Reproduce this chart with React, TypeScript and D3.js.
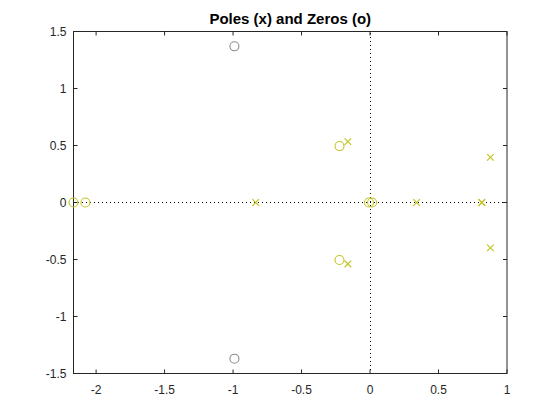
import { useEffect, useRef } from "react"
import * as d3 from "d3"

const grayZerosRe = [-0.99, -0.99]
const grayZerosIm = [1.37, -1.37]
const zerosRe = [-2.165, -2.078, -0.223, -0.223, -0.008, 0.015]
const zerosIm = [0, 0, 0.495, -0.504, 0, 0]
const polesRe = [-0.835, -0.162, -0.162, 0.34, 0.816, 0.816, 0.879, 0.879]
const polesIm = [0, 0.534, -0.539, 0, 0, 0, 0.396, -0.398]
const xTicks = [-2, -1.5, -1, -0.5, 0, 0.5, 1]
const yTicks = [-1.5, -1, -0.5, 0, 0.5, 1, 1.5]
const titleText = "Poles (x) and Zeros (o)"

export default function App() {
  const svgRef = useRef<SVGSVGElement>(null)

  useEffect(() => {
    if (!svgRef.current) return
    const width = 560
    const height = 420
    const margin = { top: 31.5, right: 53, bottom: 46.5, left: 73.5 }
    const axisColor = "#262626"
    const yellow = "#c4c426"
    const gray = "#8c8c8c"
    const font = "'Liberation Sans', Arial, sans-serif"

    const svg = d3.select(svgRef.current)
    svg.selectAll("*").remove()
    svg.attr("width", width).attr("height", height)

    const x = d3.scaleLinear().domain([-2.165, 1]).range([margin.left, width - margin.right])
    const y = d3.scaleLinear().domain([-1.5, 1.5]).range([height - margin.bottom, margin.top])

    svg.append("rect").attr("width", width).attr("height", height).attr("fill", "#fff")

    const [x0, x1] = x.range()
    const [y0, y1] = y.range()

    // dotted axes through origin
    svg.append("line")
      .attr("x1", x0).attr("x2", x1).attr("y1", y(0)).attr("y2", y(0))
      .attr("stroke", "#000").attr("stroke-dasharray", "1,3")
      .attr("shape-rendering", "crispEdges")
    svg.append("line")
      .attr("x1", x(0)).attr("x2", x(0)).attr("y1", y0).attr("y2", y1)
      .attr("stroke", "#000").attr("stroke-dasharray", "1,3")
      .attr("shape-rendering", "crispEdges")

    // box
    svg.append("rect")
      .attr("x", x0).attr("y", y1).attr("width", x1 - x0).attr("height", y0 - y1)
      .attr("fill", "none").attr("stroke", axisColor).attr("stroke-width", 1)

    const tl = 4
    const fmt = (d: number) => String(d)

    const xg = svg.append("g")
    xTicks.forEach((t) => {
      const px = x(t)
      xg.append("line").attr("x1", px).attr("x2", px).attr("y1", y0).attr("y2", y0 - tl).attr("stroke", axisColor)
      xg.append("line").attr("x1", px).attr("x2", px).attr("y1", y1).attr("y2", y1 + tl).attr("stroke", axisColor)
      xg.append("text").attr("x", px).attr("y", y0 + 20)
        .attr("text-anchor", "middle").attr("font-family", font).attr("font-size", 12)
        .attr("fill", axisColor).text(fmt(t))
    })

    const yg = svg.append("g")
    yTicks.forEach((t) => {
      const py = y(t)
      yg.append("line").attr("x1", x0).attr("x2", x0 + tl).attr("y1", py).attr("y2", py).attr("stroke", axisColor)
      yg.append("line").attr("x1", x1).attr("x2", x1 - tl).attr("y1", py).attr("y2", py).attr("stroke", axisColor)
      yg.append("text").attr("x", x0 - 7).attr("y", py).attr("dy", "0.35em")
        .attr("text-anchor", "end").attr("font-family", font).attr("font-size", 12)
        .attr("fill", axisColor).text(fmt(t))
    })

    // zeros
    const r = 4.5
    svg.append("g").selectAll("circle")
      .data(d3.zip(grayZerosRe, grayZerosIm))
      .join("circle")
      .attr("cx", (d) => x(d[0])).attr("cy", (d) => y(d[1])).attr("r", r)
      .attr("fill", "none").attr("stroke", gray).attr("stroke-width", 1.1)

    svg.append("g").selectAll("circle")
      .data(d3.zip(zerosRe, zerosIm))
      .join("circle")
      .attr("cx", (d) => x(d[0])).attr("cy", (d) => y(d[1])).attr("r", r)
      .attr("fill", "none").attr("stroke", yellow).attr("stroke-width", 1.1)

    // poles
    const s = 3.3
    svg.append("g").selectAll("path")
      .data(d3.zip(polesRe, polesIm))
      .join("path")
      .attr("d", (d) => {
        const cx = x(d[0]), cy = y(d[1])
        return `M${cx - s},${cy - s}L${cx + s},${cy + s}M${cx - s},${cy + s}L${cx + s},${cy - s}`
      })
      .attr("fill", "none").attr("stroke", yellow).attr("stroke-width", 1.2)

    svg.append("text")
      .attr("x", (x0 + x1) / 2).attr("y", 24)
      .attr("text-anchor", "middle").attr("font-family", font)
      .attr("font-size", 15).attr("font-weight", "bold").attr("fill", "#000")
      .text(titleText)
  }, [])

  return <svg ref={svgRef} style={{ position: "absolute", left: 0, top: 0 }} />
}
